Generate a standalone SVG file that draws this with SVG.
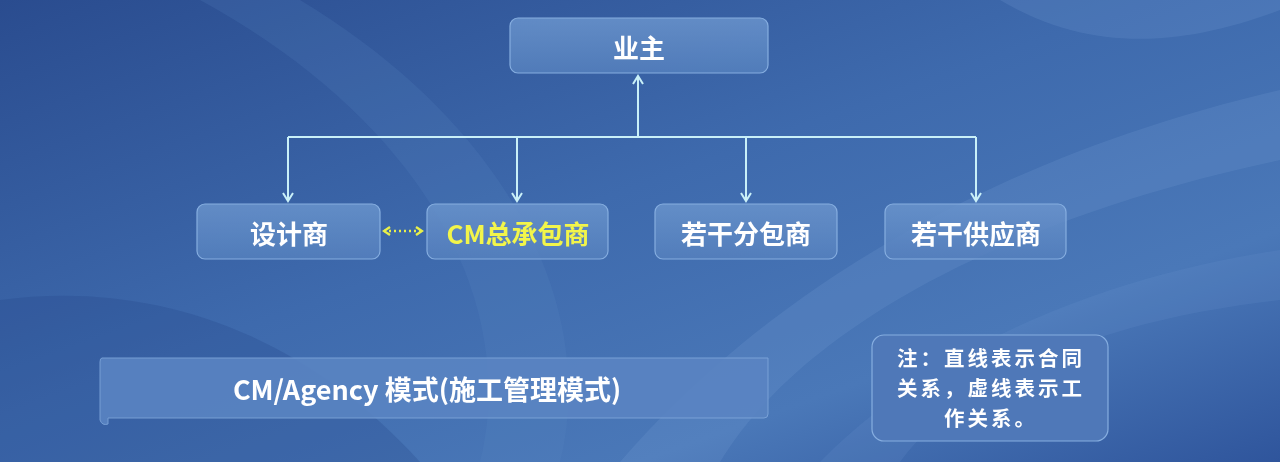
<svg xmlns="http://www.w3.org/2000/svg" width="1280" height="462" viewBox="0 0 1280 462">
<defs>
<linearGradient id="bg" x1="0" y1="0" x2="1" y2="1">
<stop offset="0" stop-color="#2a4c8f"/>
<stop offset="0.45" stop-color="#3e6aad"/>
<stop offset="0.75" stop-color="#4a78b8"/>
<stop offset="1" stop-color="#2f559c"/>
</linearGradient>
<linearGradient id="box" x1="0" y1="0" x2="0" y2="1">
<stop offset="0" stop-color="#6a94cc" stop-opacity="0.85"/>
<stop offset="1" stop-color="#5580bd" stop-opacity="0.85"/>
</linearGradient>
<marker id="arr" viewBox="0 0 12 12" refX="10" refY="6" markerWidth="12" markerHeight="12" orient="auto" markerUnits="userSpaceOnUse">
<path d="M2,1 L10,6 L2,11" fill="none" stroke="#c9f0f8" stroke-width="2"/>
</marker>
<marker id="yarr" viewBox="0 0 10 10" refX="8" refY="5" markerWidth="10" markerHeight="10" orient="auto-start-reverse" markerUnits="userSpaceOnUse">
<path d="M2,1 L8,5 L2,9" fill="none" stroke="#e8f04a" stroke-width="2.4"/>
</marker>
<style>
.bx{fill:url(#box);stroke:#86aee0;stroke-width:1.2}
.t{font-family:"Noto Sans CJK SC","Noto Sans",sans-serif;font-weight:bold;fill:#ffffff;text-anchor:middle;dominant-baseline:central}
.ln{stroke:#c9f0f8;stroke-width:2;fill:none}
.nt{font-size:20.5px;letter-spacing:3px}
</style>
</defs>
<rect width="1280" height="462" fill="url(#bg)"/>
<g id="background" opacity="0.5">
<path d="M200,0 C420,120 520,300 480,462 L560,462 C600,300 500,120 300,0 Z" fill="#5d8ac6" opacity="0.35"/>
<path d="M620,462 C760,300 980,160 1280,90 L1280,160 C1000,220 800,330 720,462 Z" fill="#7ba3d8" opacity="0.4"/>
<path d="M820,462 C920,360 1080,280 1280,250 L1280,300 C1100,320 960,380 900,462 Z" fill="#6d98d0" opacity="0.35"/>
<path d="M0,300 C150,280 300,330 420,462 L0,462 Z" fill="#1f3f80" opacity="0.45"/>
<path d="M1000,0 C1100,60 1200,40 1280,10 L1280,0 Z" fill="#7aa2d6" opacity="0.4"/>
</g>
<g id="connectors">
<line class="ln" x1="638" y1="137" x2="638" y2="76" marker-end="url(#arr)"/>
<line class="ln" x1="288" y1="137" x2="976" y2="137"/>
<line class="ln" x1="288" y1="137" x2="288" y2="201" marker-end="url(#arr)"/>
<line class="ln" x1="517" y1="137" x2="517" y2="201" marker-end="url(#arr)"/>
<line class="ln" x1="746" y1="137" x2="746" y2="201" marker-end="url(#arr)"/>
<line class="ln" x1="976" y1="137" x2="976" y2="201" marker-end="url(#arr)"/>
<line x1="384" y1="231" x2="422" y2="231" stroke="#e8f04a" stroke-width="2.4" stroke-dasharray="2,3" marker-start="url(#yarr)" marker-end="url(#yarr)"/>
</g>
<g id="owner">
<rect class="bx" x="510" y="18" width="258" height="55" rx="8"/>
<text class="t" x="639" y="46" font-size="26">业主</text>
</g>
<g id="designer">
<rect class="bx" x="197" y="204" width="183" height="55" rx="8"/>
<text class="t" x="289" y="232" font-size="26">设计商</text>
</g>
<g id="cm">
<rect class="bx" x="427" y="204" width="181" height="55" rx="8"/>
<text class="t" x="518" y="232" font-size="26" style="fill:#f2f54a">CM总承包商</text>
</g>
<g id="subcontractors">
<rect class="bx" x="655" y="204" width="182" height="55" rx="8"/>
<text class="t" x="746" y="232" font-size="26">若干分包商</text>
</g>
<g id="suppliers">
<rect class="bx" x="885" y="204" width="181" height="55" rx="8"/>
<text class="t" x="976" y="232" font-size="26">若干供应商</text>
</g>
<g id="banner">
<path d="M102,358 L768,358 L768,414 Q768,418 764,418 L108,418 L108,424 Q102,426 100,420 L100,362 Q100,358 102,358 Z" fill="#5a84c2" opacity="0.9" stroke="#7ea6da" stroke-width="1"/>
<text class="t" x="427" y="388" font-size="27">CM/Agency 模式(施工管理模式)</text>
</g>
<g id="note">
<rect class="bx" x="872" y="335" width="236" height="106" rx="12" style="fill:#4f78b8"/>
<text class="t nt" x="991" y="357">注：直线表示合同</text>
<text class="t nt" x="991" y="387">关系，虚线表示工</text>
<text class="t nt" x="991" y="417">作关系。</text>
</g>
</svg>
